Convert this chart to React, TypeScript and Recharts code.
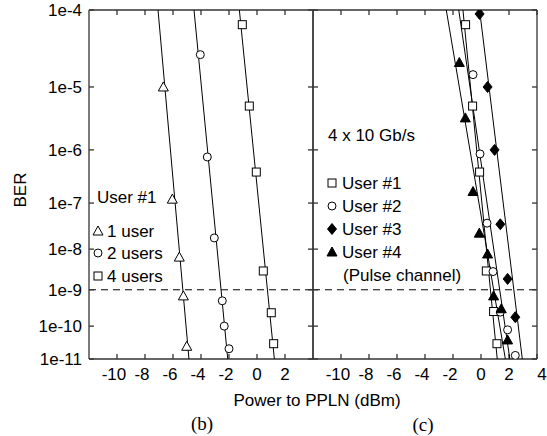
import React from 'react';
import { ScatterChart, Scatter, XAxis, YAxis, ReferenceLine } from 'recharts';

// BER exponents shown on the y axis (1e-4 ... 1e-11)
const berExp = [4, 5, 6, 7, 8, 9, 10, 11];
const thresholdBer = 1e-9;
const fitBer = [1e-4, 1e-11]; // fitted lines run across the whole plot height

// (b) user #1 with 1, 2 and 4 users
const oneUserX = [-6.69, -6.05, -5.55, -5.26, -5.02];
const oneUserBer = [1.0e-5, 1.2e-7, 6.5e-9, 6.9e-10, 2.5e-11];
const twoUsersX = [-4.05, -3.55, -3.05, -2.48, -2.34, -2.0];
const twoUsersBer = [2.8e-5, 7.5e-7, 1.8e-8, 5.1e-10, 1.0e-10, 2.1e-11];
const fourUsersX = [-1.05, -0.55, -0.05, 0.45, 1.02, 1.19];
const fourUsersBer = [6.7e-5, 5.2e-6, 4.0e-7, 3.0e-9, 2.4e-10, 3.0e-11];
const oneUserFitX = [-7.07, -4.86];
const twoUsersFitX = [-4.5, -2.09];
const fourUsersFitX = [-1.26, 1.24];

// (c) 4 x 10 Gb/s, all users
const user1X = [-1.1, -0.6, -0.1, 0.38, 0.9, 1.14];
const user1Ber = [6.7e-5, 5.2e-6, 4.0e-7, 3.0e-9, 2.6e-10, 3.0e-11];
const user2X = [-0.57, -0.07, 0.43, 0.86, 1.38, 1.9, 2.45];
const user2Ber = [1.5e-5, 8.5e-7, 3.8e-8, 2.9e-9, 2.5e-10, 7.8e-11, 1.3e-11];
const user3X = [-0.1, 0.47, 0.97, 1.38, 1.9, 2.45];
const user3Ber = [9.0e-5, 1.0e-5, 1.0e-6, 3.6e-8, 1.9e-9, 1.8e-10];
const user4X = [-1.55, -1.12, -0.57, -0.12, 0.47, 0.9, 1.45, 1.9];
const user4Ber = [2.2e-5, 3.4e-6, 1.7e-7, 2.3e-8, 7.7e-9, 6.9e-10, 3.1e-10, 3.9e-11];
const user1FitX = [-1.29, 1.16];
const user2FitX = [-1.59, 2.06];
const user3FitX = [-0.1, 2.95];
const user4FitX = [-2.48, 1.74];

const xTicksB = [-10, -8, -6, -4, -2, 0, 2];
const xTicksC = [-10, -8, -6, -4, -2, 0, 2, 4];

// BER axis: -log(-log(BER)) scale
const tr = (ber: number) => Math.log10(-Math.log10(ber));
const yTicks = berExp.map((n) => Math.log10(n));
const yDomain = [tr(1e-4), tr(1e-11)];
const yLabel = (v: number) => `1e-${Math.round(Math.pow(10, v))}`;
const pts = (xs: number[], bers: number[]) => xs.map((x, i) => ({ x, y: tr(bers[i]) }));

const frame = '#333';
const font = '"Liberation Sans", Arial, sans-serif';
const blank = () => '';

function Mark({ cx, cy, kind }: { cx: number; cy: number; kind: string }) {
  if (kind === 'tri')
    return <polygon points={`${cx},${cy - 5} ${cx + 5},${cy + 4} ${cx - 5},${cy + 4}`} fill="#fff" stroke="#000" />;
  if (kind === 'triFill')
    return <polygon points={`${cx},${cy - 5} ${cx + 5},${cy + 4} ${cx - 5},${cy + 4}`} fill="#000" stroke="#000" />;
  if (kind === 'circle') return <circle cx={cx} cy={cy} r={4} fill="#fff" stroke="#000" />;
  if (kind === 'square') return <rect x={cx - 4} y={cy - 4} width={8} height={8} fill="#fff" stroke="#000" />;
  return <polygon points={`${cx},${cy - 5.5} ${cx + 4.5},${cy} ${cx},${cy + 5.5} ${cx - 4.5},${cy}`} fill="#000" stroke="#000" />;
}

const XTick = (p: any) => {
  const v = p.payload.value;
  const dx = v < 0 ? -3 : v === 4 ? 5 : 0;
  return (
    <text x={p.x + dx} y={p.y} dy="0.71em" textAnchor="middle" fontSize={17} fill="#000" fontFamily={font}>
      {v}
    </text>
  );
};

const noShape = () => <g />;

function Panel({ width, margin, labelled, xTicks, fits, series }: any) {
  return (
    <ScatterChart width={width} height={400} margin={margin}>
      <XAxis type="number" dataKey="x" domain={[-12, 4]} ticks={xTicks} allowDataOverflow height={41}
        tickSize={-5} tickMargin={14} stroke={frame} strokeWidth={1.3} tick={(p: any) => <XTick {...p} />} />
      <XAxis xAxisId="top" orientation="top" type="number" dataKey="x" domain={[-12, 4]} ticks={xTicks}
        allowDataOverflow height={1} tickSize={-5} tickMargin={0} stroke={frame} strokeWidth={1.3} tickFormatter={blank} />
      <YAxis type="number" dataKey="y" domain={yDomain} ticks={yTicks} reversed allowDataOverflow
        width={labelled ? 79 : 1} tickSize={-5} tickMargin={labelled ? 12 : 0}
        stroke={frame} strokeWidth={1.3} tickFormatter={labelled ? yLabel : blank}
        tick={{ fill: '#000', fontSize: 17, fontFamily: font }} />
      <YAxis yAxisId="right" orientation="right" type="number" dataKey="y" domain={yDomain} ticks={yTicks}
        reversed allowDataOverflow width={1} tickSize={-5} tickMargin={0} stroke={frame} strokeWidth={1.3}
        tickFormatter={blank} />
      <ReferenceLine y={tr(thresholdBer)} stroke="#000" strokeDasharray="7 5" />
      {fits.map((fx: number[], i: number) => (
        <Scatter key={'f' + i} data={pts(fx, fitBer)} line={{ stroke: '#000', strokeWidth: 1 }}
          shape={noShape} isAnimationActive={false} />
      ))}
      {series.map((s: any, i: number) => (
        <Scatter key={'s' + i} data={pts(s.x, s.ber)} isAnimationActive={false}
          shape={(p: any) => <Mark cx={p.cx} cy={p.cy} kind={s.kind} />} />
      ))}
    </ScatterChart>
  );
}

export default function App() {
  const txt = { fontSize: 17, fontFamily: font, fill: '#000' };
  return (
    <div style={{ position: 'absolute', left: 0, top: 0, width: 547, height: 436, background: '#fff', fontFamily: font }}>
      <div style={{ position: 'absolute', left: 0, top: 0 }}>
        <Panel width={314} margin={{ top: 9, right: 0, bottom: 0, left: 10 }} labelled xTicks={xTicksB}
          fits={[oneUserFitX, twoUsersFitX, fourUsersFitX]}
          series={[
            { x: oneUserX, ber: oneUserBer, kind: 'tri' },
            { x: twoUsersX, ber: twoUsersBer, kind: 'circle' },
            { x: fourUsersX, ber: fourUsersBer, kind: 'square' },
          ]} />
      </div>
      <div style={{ position: 'absolute', left: 303, top: 0 }}>
        <Panel width={244} margin={{ top: 9, right: 9, bottom: 0, left: 9 }} labelled={false} xTicks={xTicksC}
          fits={[user1FitX, user2FitX, user3FitX, user4FitX]}
          series={[
            { x: user1X, ber: user1Ber, kind: 'square' },
            { x: user2X, ber: user2Ber, kind: 'circle' },
            { x: user3X, ber: user3Ber, kind: 'diamond' },
            { x: user4X, ber: user4Ber, kind: 'triFill' },
          ]} />
      </div>
      <svg width={547} height={436} style={{ position: 'absolute', left: 0, top: 0, pointerEvents: 'none' }}>
        <text transform="translate(26,190) rotate(-90)" textAnchor="middle" {...txt}>BER</text>
        <text x={317} y={406} textAnchor="middle" {...txt}>Power to PPLN (dBm)</text>
        <text x={202} y={430} textAnchor="middle" fontSize={19} fontFamily='"Liberation Serif", serif'>(b)</text>
        <text x={423} y={431} textAnchor="middle" fontSize={19} fontFamily='"Liberation Serif", serif'>(c)</text>

        <text x={97} y={203} {...txt}>User #1</text>
        <Mark cx={98} cy={231} kind="tri" />
        <text x={107} y={237} {...txt}>1 user</text>
        <Mark cx={98} cy={253} kind="circle" />
        <text x={107} y={259} {...txt}>2 users</text>
        <Mark cx={98} cy={276} kind="square" />
        <text x={107} y={282} {...txt}>4 users</text>

        <text x={328} y={141} {...txt}>4 x 10 Gb/s</text>
        <Mark cx={332} cy={183} kind="square" />
        <text x={342} y={189} {...txt}>User #1</text>
        <Mark cx={332} cy={206} kind="circle" />
        <text x={342} y={212} {...txt}>User #2</text>
        <Mark cx={332} cy={229} kind="diamond" />
        <text x={342} y={235} {...txt}>User #3</text>
        <Mark cx={332} cy={252} kind="triFill" />
        <text x={342} y={258} {...txt}>User #4</text>
        <text x={343} y={281} {...txt}>(Pulse channel)</text>
      </svg>
    </div>
  );
}
